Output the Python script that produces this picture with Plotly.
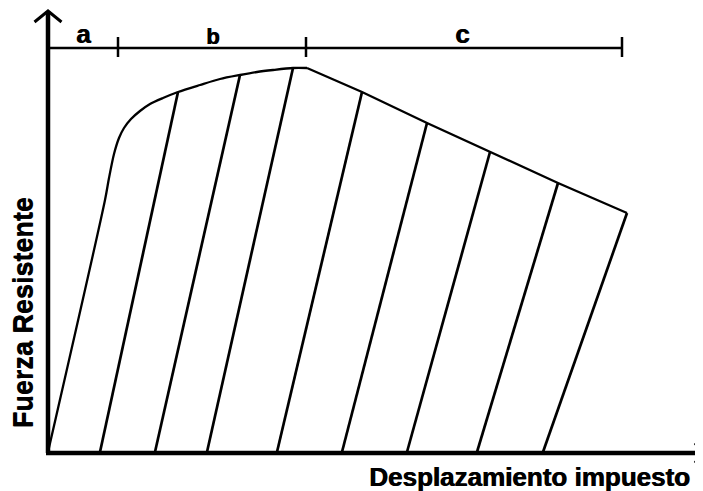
import plotly.graph_objects as go

# Envelope (loading curve) - displacement vs resisting force
env_rise_x = [0.0, 5.7, 6.1, 6.6, 7.1, 7.6, 8.3, 9.2, 10.2, 11.5, 13.0, 15.2, 17.2, 19.2, 20.9, 22.5, 24.5, 25.9]
env_rise_y = [0.0, 25.2, 27.4, 29.8, 31.4, 32.4, 33.3, 34.1, 34.8, 35.4, 36.0, 36.7, 37.3, 37.7, 38.0, 38.2, 38.4, 38.4]
env_fall_x = [25.9, 31.4, 37.9, 44.2, 51.0, 57.9]
env_fall_y = [38.4, 36.0, 32.9, 30.0, 26.9, 23.9]

# Unloading branches: start on envelope, end on displacement axis
unload_top_x = [13.0, 19.2, 24.5, 31.4, 37.9, 44.2, 51.0, 57.9]
unload_top_y = [36.0, 37.7, 38.4, 36.0, 32.9, 30.0, 26.9, 23.9]
unload_bot_x = [5.2, 10.7, 15.9, 22.9, 29.4, 35.9, 42.9, 49.5]

# Zone brackets
zone_labels = ["a", "b", "c"]
zone_bounds = [0.0, 7.0, 25.8, 57.4]
bracket_y = 40.4

x_title = "Desplazamiento impuesto"
y_title = "Fuerza Resistente"

FONT = "Liberation Sans, Arial, sans-serif"
SHADOW = "0.8px 0 0 black"

fig = go.Figure()

fig.add_trace(go.Scatter(x=env_rise_x, y=env_rise_y, mode="lines",
                         line=dict(color="black", width=2.3, shape="spline", smoothing=0.8),
                         hoverinfo="skip", showlegend=False))
fig.add_trace(go.Scatter(x=env_fall_x, y=env_fall_y, mode="lines",
                         line=dict(color="black", width=2.3),
                         hoverinfo="skip", showlegend=False))

ux, uy = [], []
for tx, ty, bx in zip(unload_top_x, unload_top_y, unload_bot_x):
    ux += [tx, bx, None]
    uy += [ty, 0.0, None]
fig.add_trace(go.Scatter(x=ux, y=uy, mode="lines",
                         line=dict(color="black", width=2.7),
                         hoverinfo="skip", showlegend=False))

shapes = []
# Axes
shapes.append(dict(type="line", x0=0, y0=-0.1, x1=0, y1=44.1, line=dict(color="black", width=4.5)))
shapes.append(dict(type="line", x0=-0.2, y0=-0.1, x1=66.3, y1=-0.1, line=dict(color="black", width=4.5)))
# Arrow heads (open chevrons)
shapes.append(dict(type="path", path="M -1.35 43.0 L 0 44.1 L 1.35 43.0", line=dict(color="black", width=3)))
shapes.append(dict(type="path", path="M 64.7 0.9 L 65.5 -0.1 L 64.7 -1.1", line=dict(color="black", width=3)))
# Bracket line and ticks
shapes.append(dict(type="line", x0=0, y0=bracket_y, x1=zone_bounds[-1], y1=bracket_y,
                   line=dict(color="black", width=2.3)))
for b in zone_bounds[1:]:
    shapes.append(dict(type="line", x0=b, y0=bracket_y - 0.9, x1=b, y1=bracket_y + 1.1,
                       line=dict(color="black", width=2.5)))

annotations = []
label_sizes = [26, 22, 26]
for lab, lo, hi, sz in zip(zone_labels, zone_bounds[:-1], zone_bounds[1:], label_sizes):
    annotations.append(dict(x=(lo + hi) / 2 - (0.2 if lab == "c" else 0), y=bracket_y - 0.3, text="<b>%s</b>" % lab,
                            showarrow=False, xanchor="center", yanchor="bottom",
                            font=dict(family=FONT, size=sz, color="black", shadow=SHADOW)))
annotations.append(dict(x=48.1, y=-2.5, text="<b>%s</b>" % x_title, showarrow=False,
                        xanchor="center", yanchor="middle",
                        font=dict(family=FONT, size=26, color="black", shadow=SHADOW)))
annotations.append(dict(x=-2.5, y=13.9, text="<b>%s</b>" % y_title, showarrow=False,
                        textangle=-90, xanchor="center", yanchor="middle",
                        font=dict(family=FONT, size=27, color="black", shadow="0 0.8px 0 black")))

fig.update_layout(
    width=703, height=491,
    margin=dict(l=0, r=0, t=0, b=0),
    paper_bgcolor="white", plot_bgcolor="white",
    xaxis=dict(range=[-4.0, 66.3], visible=False, fixedrange=True),
    yaxis=dict(range=[-4.7, 44.4], visible=False, fixedrange=True),
    shapes=shapes, annotations=annotations,
    showlegend=False,
)

fig.write_html("out.html")
